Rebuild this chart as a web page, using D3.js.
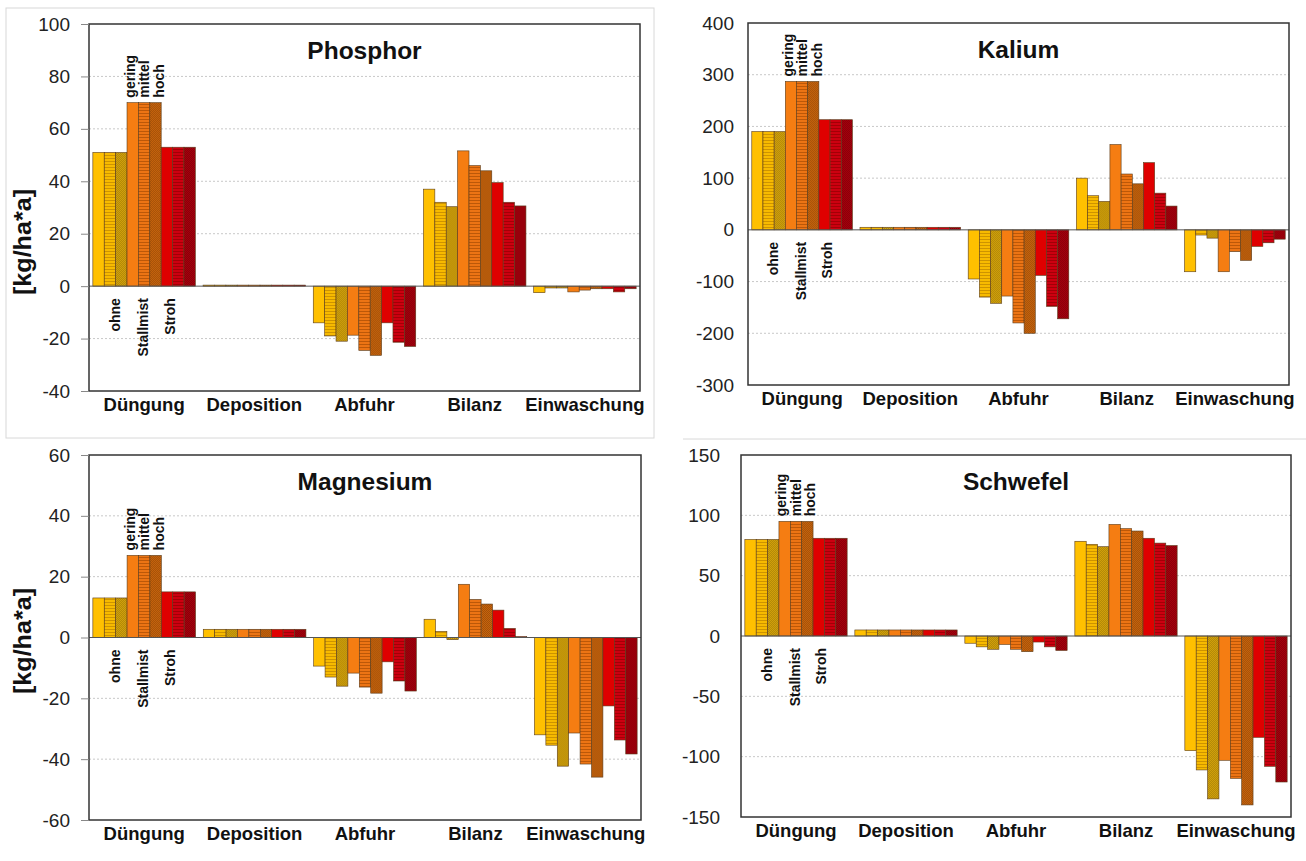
<!DOCTYPE html>
<html>
<head>
<meta charset="utf-8">
<script src="https://cdn.jsdelivr.net/npm/d3@7"></script>
<style>
  body { margin: 0; background: #fff; }
  svg { font-family: "Liberation Sans", Arial, sans-serif; }
</style>
</head>
<body>
<svg id="chart" width="1306" height="861"></svg>
<script>
// categories and variants
const categories = ['Düngung', 'Deposition', 'Abfuhr', 'Bilanz', 'Einwaschung'];
const groups = ['ohne', 'Stallmist', 'Stroh'];
const levels = ['gering', 'mittel', 'hoch'];

// values per category: ohne g/m/h, Stallmist g/m/h, Stroh g/m/h
const phosphor = [
  [51, 51, 51, 70, 70, 70, 53, 53, 53],
  [0.4, 0.4, 0.4, 0.4, 0.4, 0.4, 0.4, 0.4, 0.4],
  [-14, -19, -21, -18.7, -24.5, -26.4, -14, -21.4, -23],
  [37, 32, 30.3, 51.6, 46, 44, 39.5, 32, 30.6],
  [-2.5, -0.7, -0.7, -2.2, -1.5, -1, -1, -2.2, -1]
];
const kalium = [
  [190, 190, 190, 287, 287, 287, 213, 213, 213],
  [5, 5, 5, 5, 5, 5, 5, 5, 5],
  [-95, -130, -142, -128, -180, -200, -88, -148, -172],
  [100, 66, 55, 165, 108, 89, 130, 71, 46],
  [-81, -10, -16, -81, -42, -59, -32, -25, -18]
];
const magnesium = [
  [13, 13, 13, 27, 27, 27, 15, 15, 15],
  [2.7, 2.7, 2.7, 2.7, 2.7, 2.7, 2.7, 2.7, 2.7],
  [-9.4, -13, -16, -11.7, -16.3, -18.3, -8, -14.3, -17.6],
  [6, 2, -0.7, 17.5, 12.5, 11, 9, 3, 0.3],
  [-32, -35.4, -42.3, -31.4, -41.6, -45.9, -22.5, -33.7, -38.3]
];
const schwefel = [
  [80, 80, 80, 95, 95, 95, 81, 81, 81],
  [5, 5, 5, 5, 5, 5, 5, 5, 5],
  [-6, -9, -11, -7, -11, -13, -5, -9, -12],
  [78.5, 76, 74, 92.5, 89, 87, 81, 77, 75],
  [-95, -111, -135, -103, -118, -140, -84, -108, -121]
];

const phosphorTicks = [-40, -20, 0, 20, 40, 60, 80, 100];
const kaliumTicks = [-300, -200, -100, 0, 100, 200, 300, 400];
const magnesiumTicks = [-60, -40, -20, 0, 20, 40, 60];
const schwefelTicks = [-150, -100, -50, 0, 50, 100, 150];

const unitLabel = '[kg/ha*a]';

// colours: per group base colour, striped colour, stripe ink, dotted colour, dot ink
const palette = [
  { solid: '#FFC000', mid: '#F7BA00', midInk: '#B07A00', high: '#D6A40C', highInk: '#7d6000' },
  { solid: '#F57D12', mid: '#EC7414', midInk: '#9C4600', high: '#C9650E', highInk: '#733800' },
  { solid: '#DF0000', mid: '#CC0010', midInk: '#860000', high: '#A9000E', highInk: '#5c0000' }
];

const panels = [
  { title: 'Phosphor', data: phosphor, ticks: phosphorTicks, box: [89, 24, 640, 391], yTitleAt: 242, tickPad: 19 },
  { title: 'Kalium', data: kalium, ticks: kaliumTicks, box: [748, 23, 1289, 385], yTitleAt: null, tickPad: 14 },
  { title: 'Magnesium', data: magnesium, ticks: magnesiumTicks, box: [89, 455, 641, 820], yTitleAt: 641, tickPad: 19 },
  { title: 'Schwefel', data: schwefel, ticks: schwefelTicks, box: [741, 455, 1291, 817], yTitleAt: null, tickPad: 21 }
];

const svg = d3.select('#chart');

// screenshot frames
svg.append('rect').attr('x', 6).attr('y', 8).attr('width', 648).attr('height', 430)
  .attr('fill', 'none').attr('stroke', '#d8d8d8');
svg.append('line').attr('x1', 683).attr('x2', 1306).attr('y1', 439).attr('y2', 439)
  .attr('stroke', '#d8d8d8');

// patterns
const defs = svg.append('defs');
palette.forEach((p, gi) => {
  const lines = defs.append('pattern').attr('id', 'mid' + gi)
    .attr('patternUnits', 'userSpaceOnUse').attr('width', 4).attr('height', 3);
  lines.append('rect').attr('width', 4).attr('height', 3).attr('fill', p.mid);
  lines.append('rect').attr('y', 2).attr('width', 4).attr('height', 1).attr('fill', p.midInk).attr('opacity', 0.6);

  const dots = defs.append('pattern').attr('id', 'high' + gi)
    .attr('patternUnits', 'userSpaceOnUse').attr('width', 2).attr('height', 2);
  dots.append('rect').attr('width', 2).attr('height', 2).attr('fill', p.high);
  dots.append('rect').attr('width', 1).attr('height', 1).attr('fill', p.highInk).attr('opacity', 0.45);
  dots.append('rect').attr('x', 1).attr('y', 1).attr('width', 1).attr('height', 1).attr('fill', p.highInk).attr('opacity', 0.45);
});

function barFill(i) {
  const g = Math.floor(i / 3), l = i % 3;
  if (l === 0) return palette[g].solid;
  return l === 1 ? `url(#mid${g})` : `url(#high${g})`;
}

panels.forEach(panel => {
  const [x0, y0, x1, y1] = panel.box;
  const hasTitle = panel.yTitleAt !== null;
  const g = svg.append('g');

  const y = d3.scaleLinear()
    .domain(d3.extent(panel.ticks))
    .range([y1, y0]);

  const x = d3.scaleBand()
    .domain(categories)
    .range([x0, x1])
    .paddingInner(0.07)
    .paddingOuter(0.035);

  const xi = d3.scaleBand()
    .domain(d3.range(9))
    .range([0, x.bandwidth()]);

  // grid
  g.append('g')
    .selectAll('line')
    .data(panel.ticks.filter(t => t !== 0 && t !== y.domain()[0] && t !== y.domain()[1]))
    .join('line')
    .attr('x1', x0).attr('x2', x1)
    .attr('y1', d => y(d)).attr('y2', d => y(d))
    .attr('stroke', '#c8c8c8')
    .attr('stroke-dasharray', '2,2');

  // bars
  const cat = g.append('g')
    .selectAll('g')
    .data(categories)
    .join('g')
    .attr('transform', d => `translate(${x(d)},0)`);

  cat.selectAll('rect')
    .data((d, ci) => panel.data[ci])
    .join('rect')
    .attr('x', (d, i) => xi(i))
    .attr('width', xi.bandwidth())
    .attr('y', d => y(Math.max(0, d)))
    .attr('height', d => Math.abs(y(d) - y(0)))
    .attr('fill', (d, i) => barFill(i))
    .attr('stroke', '#5a3c1c')
    .attr('stroke-width', 0.6);

  // zero line
  g.append('line')
    .attr('x1', x0).attr('x2', x1)
    .attr('y1', y(0)).attr('y2', y(0))
    .attr('stroke', '#555')
    .attr('stroke-width', 1);

  // frame
  g.append('rect')
    .attr('x', x0).attr('y', y0)
    .attr('width', x1 - x0).attr('height', y1 - y0)
    .attr('fill', 'none')
    .attr('stroke', '#333')
    .attr('stroke-width', 1.5);

  // y axis
  const yAxis = g.append('g')
    .attr('transform', `translate(${x0},0)`)
    .call(d3.axisLeft(y).tickValues(panel.ticks).tickFormat(d => String(d))
      .tickSize(hasTitle ? 8 : 0)
      .tickPadding(hasTitle ? panel.tickPad - 8 : panel.tickPad));
  yAxis.select('.domain').remove();
  yAxis.selectAll('line').attr('stroke', '#888');
  yAxis.selectAll('text')
    .attr('font-size', 19)
    .attr('fill', '#222')
    .attr('font-family', '"Liberation Sans", Arial, sans-serif');

  // x axis (category labels)
  const xAxis = g.append('g')
    .attr('transform', `translate(0,${y1})`)
    .call(d3.axisBottom(x).tickSize(0).tickPadding(7));
  xAxis.select('.domain').remove();
  xAxis.selectAll('text')
    .attr('font-size', 18.5)
    .attr('font-weight', 'bold')
    .attr('fill', '#111')
    .attr('font-family', '"Liberation Sans", Arial, sans-serif');

  // title
  g.append('text')
    .attr('x', (x0 + x1) / 2)
    .attr('y', y0 + 35)
    .attr('text-anchor', 'middle')
    .attr('font-size', 24.5)
    .attr('font-weight', 'bold')
    .attr('fill', '#111')
    .text(panel.title);

  // y title
  if (hasTitle) {
    g.append('text')
      .attr('transform', `translate(31,${panel.yTitleAt}) rotate(-90)`)
      .attr('text-anchor', 'middle')
      .attr('font-size', 24)
      .attr('font-weight', 'bold')
      .attr('fill', '#111')
      .attr('textLength', 106)
      .attr('lengthAdjust', 'spacingAndGlyphs')
      .text(unitLabel);
  }

  // level labels above Stallmist bars
  const first = x(categories[0]);
  const stallMid = first + xi(4) + xi.bandwidth() / 2;
  const topStall = y(d3.max(panel.data[0].slice(3, 6)));
  g.append('g')
    .selectAll('text')
    .data(levels)
    .join('text')
    .attr('transform', (d, i) => `translate(${stallMid + (i - 1) * 14.5},${topStall - 5}) rotate(-90)`)
    .attr('dy', '0.35em')
    .attr('font-size', 14)
    .attr('font-weight', 'bold')
    .attr('fill', '#111')
    .text(d => d);

  // group labels below zero line
  const groupPos = [1.45, 3.9, 6.25];
  g.append('g')
    .selectAll('text')
    .data(groups)
    .join('text')
    .attr('transform', (d, i) => `translate(${first + xi.step() * (groupPos[i] + 0.5)},${y(0) + 12}) rotate(-90)`)
    .attr('dy', '0.35em')
    .attr('text-anchor', 'end')
    .attr('font-size', 14)
    .attr('font-weight', 'bold')
    .attr('fill', '#111')
    .text(d => d);
});
</script>
</body>
</html>
